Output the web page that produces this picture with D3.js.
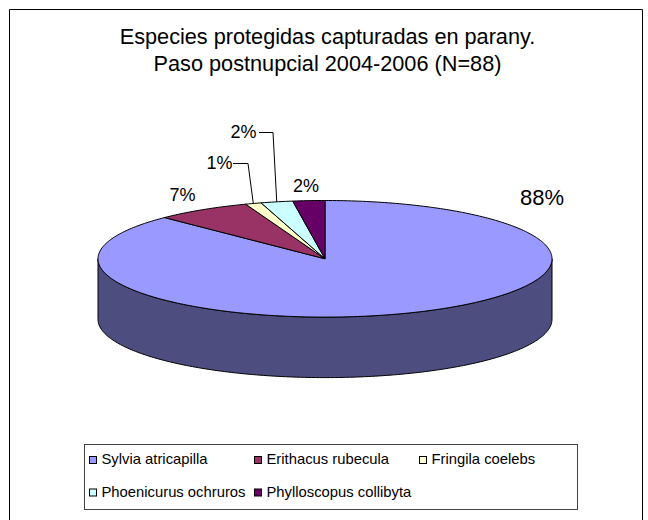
<!DOCTYPE html>
<html><head><meta charset="utf-8">
<script src="https://cdn.jsdelivr.net/npm/d3@7"></script>
<style>html,body{margin:0;padding:0;background:#fff;overflow:hidden}svg{display:block}text{font-family:"Liberation Sans",Arial,sans-serif;fill:#000}</style>
</head><body><div id="c"></div>
<script>
const categories=["Sylvia atricapilla","Erithacus rubecula","Fringila coelebs","Phoenicurus ochruros","Phylloscopus collibyta"];
const counts=[77,6,1,2,2];
const percentLabels=["88%","7%","1%","2%","2%"];
const colors=["#9999ff","#993366","#ffffcc","#ccffff","#660066"];
const wallColor="#4d4d80";
const titleLines=["Especies protegidas capturadas en parany.","Paso postnupcial 2004-2006 (N=88)"];

const W=648,H=520,cx=325,cy=258.8,rx=227,ry=58.3,depth=60.5;
const svg=d3.select("#c").append("svg").attr("width",W).attr("height",H);
// the outer frame runs past the bottom of the picture, as in the reference
svg.append("path").attr("fill","none").attr("stroke","#000").attr("d",d3.line()([[9.5,H],[9.5,9.5],[642.5,9.5],[642.5,H]]));

const sx=d3.scaleLinear().domain([-1,1]).range([cx-rx,cx+rx]);
const sy=d3.scaleLinear().domain([-1,1]).range([cy+ry,cy-ry]);
const px=a=>sx(Math.sin(a)), py=a=>sy(Math.cos(a));
const arcs=d3.pie().sort(null).value(d=>d)(counts);
const line=d3.line();
const angles=(a0,a1)=>{const n=Math.max(2,Math.ceil((a1-a0)*60));return d3.range(n+1).map(i=>a0+(a1-a0)*i/n);};

const g=svg.append("g").attr("stroke","#000").attr("stroke-width",1).attr("stroke-linejoin","round");
const wa=angles(Math.PI/2,3*Math.PI/2);
g.append("path").attr("fill",wallColor).attr("d",line([...wa.map(a=>[px(a),py(a)]),...wa.slice().reverse().map(a=>[px(a),py(a)+depth])])+"Z");
g.selectAll("path.s").data(arcs).join("path").attr("class","s").attr("fill",(d,i)=>colors[i])
 .attr("d",d=>line([[cx,cy],...angles(d.startAngle,d.endAngle).map(a=>[px(a),py(a)])])+"Z");

const labelPos=[[542,205],[182.5,201],[219.5,169],[243.5,138],[306,192]];
svg.append("g").selectAll("text").data(percentLabels).join("text").attr("text-anchor","middle")
 .attr("x",(d,i)=>labelPos[i][0]).attr("y",(d,i)=>labelPos[i][1]).style("font-size",(d,i)=>i==0?"22px":"18px").text(d=>d);
const mid=i=>(arcs[i].startAngle+arcs[i].endAngle)/2;
const leaders=[[2,[[233,163.5],[248,163.5]]],[3,[[259,132.5],[273,132.5]]]];
leaders.forEach(([i,p])=>svg.append("path").attr("fill","none").attr("stroke","#000").attr("d",line([...p,[px(mid(i)),py(mid(i))]])));

svg.append("g").selectAll("text").data(titleLines).join("text").attr("text-anchor","middle").attr("x",327.5).attr("y",(d,i)=>44+i*27).style("font-size","21.7px").text(d=>d);

const lg=svg.append("g");
lg.append("rect").attr("x",84.5).attr("y",444.5).attr("width",493).attr("height",65).attr("fill","#fff").attr("stroke","#444");
const cols=[89,254,419],rows=[460,492.5];
categories.forEach((c,i)=>{const x=cols[i%3],y=rows[Math.floor(i/3)];
 lg.append("rect").attr("x",x+.5).attr("y",y-3.5).attr("width",7).attr("height",7).attr("fill",colors[i]).attr("stroke","#000");
 lg.append("text").attr("x",x+12.5).attr("y",Math.round(y+4)).style("font-size","14.8px").text(c);
});
</script></body></html>
